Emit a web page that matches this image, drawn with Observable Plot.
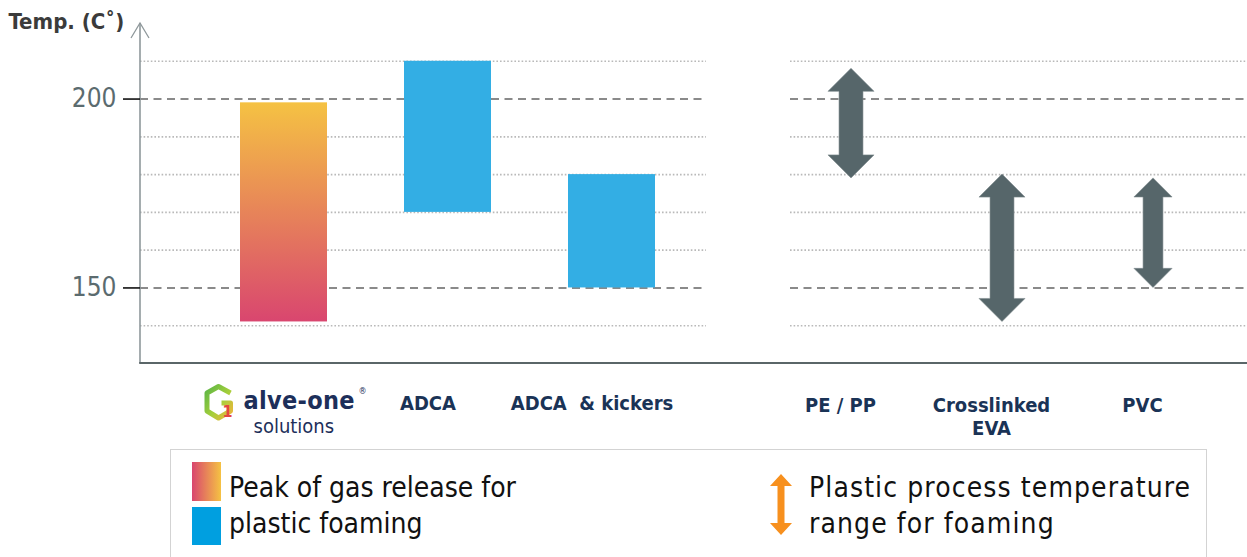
<!DOCTYPE html>
<html>
<head>
<meta charset="utf-8">
<script src="https://cdn.jsdelivr.net/npm/d3@7"></script>
<script src="https://cdn.jsdelivr.net/npm/@observablehq/plot@0.6"></script>
<style>
  body { margin: 0; background: #fff; font-family: "DejaVu Sans Condensed", "DejaVu Sans", sans-serif; font-stretch: condensed; }
  #wrap { position: relative; width: 1247px; height: 557px; overflow: hidden; }
  #charts { display: flex; align-items: flex-start; }
  #legend { position: absolute; left: 170px; top: 449px; width: 1037px; height: 140px; border: 1px solid #d3d3d3; box-sizing: border-box; }
  .sw { position: absolute; }
  .txt { position: absolute; font-size: 28px; line-height: 36px; color: #111; white-space: nowrap; }
</style>
</head>
<body>
<div id="wrap">
  <div id="charts"></div>
  <div id="legend">
    <div class="sw" style="left:21px;top:12px;width:29px;height:39px;background:linear-gradient(to right,#d9466f,#f5c243);"></div>
    <div class="sw" style="left:21px;top:57px;width:29px;height:38px;background:#009fe0;"></div>
    <div class="txt" id="legGas" style="left:58px;top:20px;"></div>
    <svg class="sw" style="left:598px;top:24px;" width="24" height="62" viewBox="0 0 24 62">
      <path d="M12,0 L23,12 L15.5,12 L15.5,49 L23,49 L12,61 L1,49 L8.5,49 L8.5,12 L1,12 Z" fill="#f7901e"/>
    </svg>
    <div class="txt" id="legProc" style="left:638px;top:20px;letter-spacing:1.1px;"></div>
  </div>
</div>
<script>
// ---------------- data ----------------
const materials = ["alve-one solutions", "ADCA", "ADCA  & kickers"];
const gasLow = [141, 170, 150];
const gasHigh = [199, 210, 180];

const plastics = ["PE / PP", "Crosslinked\nEVA", "PVC"];
const processLow = [179, 141, 150];
const processHigh = [208, 180, 179];

const yDomain = [130, 220];
const yTickLabels = [150, 200];
const dashedTicks = [150, 200];
const dottedTicks = [140, 160, 170, 180, 190, 210];

const yTitle = "Temp. (C˚)";
const legendGas = ["Peak of gas release for", "plastic foaming"];
const legendProcess = ["Plastic process temperature", "range for foaming"];

// ---------------- styles ----------------
const FONT = "'DejaVu Sans Condensed', 'DejaVu Sans', sans-serif";
const BLUE = "#33aee4";
const ARROW = "#56666a";
const NAVY = "#1a3356";
const arrowSizeFactor = {"PVC": 0.83};

document.getElementById("legGas").innerHTML = legendGas.join("<br>");
document.getElementById("legProc").innerHTML = legendProcess.join("<br>");

const matRows = materials.map((name, i) => ({name, lo: gasLow[i], hi: gasHigh[i]}));
const procRows = plastics.map((name, i) => ({name, lo: processLow[i], hi: processHigh[i]}));

function bandwidthOf(scale) {
  if (typeof scale.bandwidth === "function") return scale.bandwidth();
  if (typeof scale.bandwidth === "number") return scale.bandwidth;
  return 0;
}

function defsMark() {
  const defs = d3.create("svg:defs");
  const g = defs.append("linearGradient").attr("id", "gasGrad")
    .attr("x1", 0).attr("y1", 0).attr("x2", 0).attr("y2", 1);
  g.append("stop").attr("offset", "0%").attr("stop-color", "#f5c243");
  g.append("stop").attr("offset", "100%").attr("stop-color", "#d9466f");
  const h = defs.append("linearGradient").attr("id", "logoGrad")
    .attr("x1", 0).attr("y1", 0).attr("x2", 1).attr("y2", 1);
  h.append("stop").attr("offset", "0%").attr("stop-color", "#5db646");
  h.append("stop").attr("offset", "55%").attr("stop-color", "#a6cf3a");
  h.append("stop").attr("offset", "100%").attr("stop-color", "#f0b43a");
  return defs.node();
}

function axisLines(withYAxis) {
  return (index, scales, values, dims) => {
    const g = d3.create("svg:g");
    const yTop = scales.y(yDomain[1]);
    const yBot = scales.y(yDomain[0]);
    if (withYAxis) {
      const x = dims.marginLeft;
      g.append("line").attr("x1", x).attr("x2", x).attr("y1", yTop).attr("y2", yBot)
        .attr("stroke", "#8f989b").attr("stroke-width", 1.6);
      g.append("path").attr("d", `M${x - 9},${yTop + 15} L${x},${yTop} L${x + 9},${yTop + 15}`)
        .attr("fill", "none").attr("stroke", "#8f989b").attr("stroke-width", 1.3);
    }
    g.append("line")
      .attr("x1", withYAxis ? dims.marginLeft - 0.8 : 0).attr("x2", dims.width)
      .attr("y1", yBot).attr("y2", yBot)
      .attr("stroke", "#5a6668").attr("stroke-width", 2.2);
    return g.node();
  };
}

function logoMark(index, scales, values, dims) {
  const cx = scales.x(materials[0]) + bandwidthOf(scales.x) / 2;
  const y0 = dims.height - dims.marginBottom;
  const g = d3.create("svg:g").attr("text-anchor", "start").attr("font-family", FONT);
  const ix = cx - 79, iy = y0 + 21;
  g.append("path")
    .attr("d", `M${ix + 26},${iy + 9} L${ix + 14},${iy + 2.5} L${ix + 2.5},${iy + 9} L${ix + 2.5},${iy + 27} L${ix + 14},${iy + 34} L${ix + 26},${iy + 27} L${ix + 26},${iy + 19} L${ix + 17},${iy + 19}`)
    .attr("fill", "none").attr("stroke", "url(#logoGrad)").attr("stroke-width", 5).attr("stroke-linejoin", "round");
  g.append("text").attr("x", ix + 18).attr("y", iy + 33).attr("font-size", 16).attr("font-weight", "bold")
    .attr("fill", "#e4463f").text("1");
  g.append("text").attr("x", cx - 40).attr("y", y0 + 46).attr("font-size", 25).attr("font-weight", "bold")
    .attr("fill", "#1d2f5a").attr("letter-spacing", 0.3).text("alve-one");
  g.append("text").attr("x", cx + 75).attr("y", y0 + 31).attr("font-size", 9)
    .attr("fill", "#1d2f5a").text("®");
  g.append("text").attr("x", cx - 30).attr("y", y0 + 70).attr("font-size", 20)
    .attr("fill", "#1d2f5a").text("solutions");
  return g.node();
}

function arrowsMark(index, scales, values, dims) {
  const bw = bandwidthOf(scales.x) || 46;
  const g = d3.create("svg:g");
  procRows.forEach(d => {
    const f = arrowSizeFactor[d.name] || 1;
    const W = bw * f, s = W * 0.52, h = W * 0.5;
    const cx = scales.x(d.name) + bw / 2;
    const yt = scales.y(d.hi), yb = scales.y(d.lo);
    const p = [
      [cx, yt], [cx + W / 2, yt + h], [cx + s / 2, yt + h], [cx + s / 2, yb - h],
      [cx + W / 2, yb - h], [cx, yb], [cx - W / 2, yb - h], [cx - s / 2, yb - h],
      [cx - s / 2, yt + h], [cx - W / 2, yt + h]
    ];
    g.append("path").attr("d", "M" + p.map(q => q.join(",")).join("L") + "Z")
      .attr("fill", ARROW).attr("stroke", "#7d8a8d").attr("stroke-width", 0.6);
  });
  return g.node();
}

const gridMarks = [
  Plot.ruleY(dottedTicks, {stroke: "#b9b9b9", strokeWidth: 1.6, strokeDasharray: "1.6,2"}),
  Plot.ruleY(dashedTicks, {stroke: "#8a8a8a", strokeWidth: 2, strokeDasharray: "8,5.5"})
];

const common = {
  height: 447, marginTop: 23, marginBottom: 84,
  style: {fontFamily: FONT, background: "transparent", overflow: "visible"},
  y: {domain: yDomain, axis: null}
};

const left = Plot.plot({
  ...common,
  width: 706, marginLeft: 140, marginRight: 0,
  x: {type: "band", domain: materials, paddingInner: 0.468, paddingOuter: 0.4545, align: 0.661, axis: null},
  marks: [
    defsMark,
    ...gridMarks,
    Plot.barY(matRows, {x: "name", y1: "lo", y2: "hi", fill: "url(#gasGrad)", filter: d => d.name === materials[0]}),
    Plot.barY(matRows, {x: "name", y1: "lo", y2: "hi", fill: BLUE, filter: d => d.name !== materials[0]}),
    axisLines(true),
    Plot.axisY({ticks: yTickLabels, tickSize: 17, tickPadding: 7, fontSize: 26, stroke: "#111", fill: "#5b6b6f", strokeWidth: 1.6, label: null}),
    Plot.axisX({tickSize: 0, tickPadding: 32, fontSize: 20, fontWeight: "bold", fill: NAVY, dx: -20, label: null,
      tickFormat: d => d === materials[0] ? "" : d}),
    logoMark,
    Plot.text([yTitle], {frameAnchor: "top-left", dx: -132, dy: -2, textAnchor: "start", lineAnchor: "middle",
      fontSize: 22, fontWeight: "bold", fill: "#3b3b3b"})
  ]
});

const right = Plot.plot({
  ...common,
  width: 541, marginLeft: 84, marginRight: 0,
  x: {type: "band", domain: plastics, paddingInner: 0.696, paddingOuter: 0.356, align: 0.352, axis: null},
  marks: [
    ...gridMarks,
    axisLines(false),
    arrowsMark,
    Plot.axisX({tickSize: 0, tickPadding: 32, fontSize: 20, fontWeight: "bold", fill: NAVY, dx: -11, lineHeight: 1.15, label: null})
  ]
});

document.getElementById("charts").append(left, right);
</script>
</body>
</html>
